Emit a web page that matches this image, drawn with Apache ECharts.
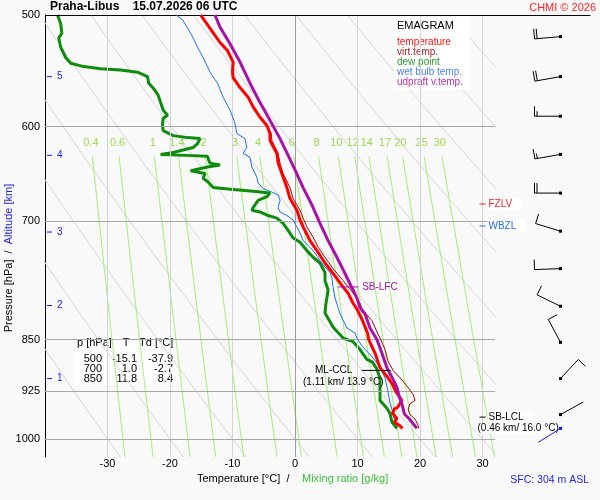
<!DOCTYPE html>
<html>
<head>
<meta charset="utf-8" />
<title>Emagram Praha-Libus</title>
<style>
  html, body { margin: 0; padding: 0; background: #f9f9f9; }
  #emagram { width: 600px; height: 500px; }
</style>
</head>
<body>
<div id="emagram"></div>
<script src="https://cdn.jsdelivr.net/npm/echarts@6/dist/echarts.min.js"></script>
<script>
// --- sounding profiles (pressure hPa / temperature degC) ---
var tempP = [500, 514, 523, 530, 540, 549, 554, 563, 572, 581, 591, 599, 607, 614, 627, 637, 648, 663, 675, 688, 699, 707, 723, 735, 750, 763, 778, 788, 801, 810, 824, 841, 850, 869, 890, 904, 913, 928, 939, 950, 952, 959, 967, 973, 978, 983];
var tempT = [-15.1, -13.2, -12.0, -10.8, -9.9, -10.0, -9.9, -8.8, -7.5, -6.7, -5.6, -4.5, -4.0, -4.0, -2.9, -2.7, -2.1, -1.3, -0.8, 0.3, 0.8, 1.3, 2.4, 3.5, 4.8, 6.1, 7.5, 8.5, 9.3, 10.0, 10.8, 11.6, 11.8, 12.8, 13.6, 14.8, 15.5, 16.3, 17.1, 16.4, 15.9, 15.6, 16.3, 15.9, 16.7, 17.2];

var virtP = [500, 514, 523, 530, 540, 549, 554, 563, 572, 581, 591, 599, 607, 614, 627, 637, 648, 663, 675, 688, 697, 707, 719, 731, 743, 757, 772, 788, 801, 810, 824, 841, 848, 864, 881, 894, 905, 917, 930, 939, 944, 953, 961, 968, 978, 983];
var virtT = [-15.0, -13.1, -11.9, -10.7, -9.8, -9.9, -9.8, -8.7, -7.4, -6.6, -5.5, -4.4, -3.8, -3.7, -2.7, -2.4, -1.9, -0.8, -0.3, 0.8, 1.3, 1.9, 2.9, 3.7, 4.8, 6.1, 7.7, 9.3, 10.4, 10.8, 12.3, 13.2, 13.6, 14.4, 14.9, 15.7, 16.8, 17.9, 18.9, 19.2, 18.4, 18.1, 18.4, 19.2, 19.7, 19.8];

var dewP = [500, 507, 515, 519, 527, 536, 541, 544, 546, 547, 549, 553, 559, 564, 570, 577, 584, 589, 592, 599, 604, 609, 611, 612, 617, 621, 626, 628, 629, 630, 634, 637, 639, 641, 645, 648, 653, 657, 663, 665, 667, 669, 673, 677, 685, 688, 690, 694, 697, 703, 711, 720, 725, 735, 743, 750, 762, 772, 784, 794, 804, 814, 833, 848, 853, 864, 878, 882, 892, 906, 939, 951, 959, 973, 983];
var dewT = [-38.0, -37.5, -37.3, -37.8, -37.5, -36.7, -35.9, -33.8, -31.1, -27.9, -25.2, -23.6, -23.4, -22.6, -21.9, -21.5, -21.1, -20.4, -21.1, -21.2, -21.1, -19.5, -17.2, -15.2, -15.6, -16.3, -19.5, -21.5, -17.5, -14.0, -13.8, -13.6, -12.0, -14.0, -16.7, -14.4, -14.7, -13.9, -13.1, -9.9, -6.7, -4.0, -4.5, -5.9, -6.7, -6.9, -5.6, -4.3, -2.9, -1.9, -1.1, -0.3, 0.8, 1.9, 2.9, 4.0, 4.8, 4.8, 5.3, 5.1, 4.9, 4.8, 6.1, 7.7, 9.3, 10.4, 11.5, 12.4, 13.1, 13.6, 13.6, 14.7, 15.2, 15.5, 16.3];

var wetP = [500, 504, 515, 527, 536, 549, 559, 572, 584, 597, 607, 612, 621, 627, 631, 641, 652, 658, 664, 668, 671, 677, 685, 690, 694, 699, 707, 714, 723, 731, 738, 747, 755, 762, 768, 781, 794, 807, 815, 834, 841, 848, 860, 874, 889, 905, 922, 942, 953, 968, 980];
var wetT = [-19.0, -18.0, -16.7, -15.6, -14.7, -13.6, -12.4, -11.5, -10.4, -9.6, -9.3, -8.0, -7.7, -8.3, -7.2, -6.9, -6.1, -5.9, -5.1, -3.7, -2.7, -2.4, -2.7, -2.4, -1.3, -0.3, 0.3, 0.8, 1.3, 2.4, 3.2, 4.0, 4.8, 5.6, 5.9, 6.1, 6.4, 6.9, 7.2, 8.3, 9.6, 9.9, 10.8, 12.3, 13.6, 14.4, 14.8, 15.2, 15.5, 15.9, 16.4];

var parcelP = [500, 510, 524, 540, 559, 577, 594, 612, 629, 644, 663, 682, 703, 723, 743, 763, 781, 794, 807, 815, 834, 850, 869, 890, 904, 919, 934, 944, 960, 968, 983];
var parcelT = [-12.8, -12.0, -10.4, -8.8, -7.2, -5.6, -4.0, -2.4, -1.1, 0.0, 1.3, 2.7, 4.0, 5.3, 6.7, 8.0, 9.1, 9.9, 10.4, 11.2, 12.0, 13.1, 13.9, 14.7, 15.5, 16.3, 16.7, 17.1, 17.5, 18.3, 19.5];

// --- axes / background isopleths ---
var tMin = -40, tMax = 32, pTop = 500, pBottom = 1030;
var isoT = [-30, -20, -10, 0, 10, 20, 30];
var pLevels = [500, 600, 700, 850, 925, 1000];
var thetaC = [-30, -20, -10, 0, 10, 20, 30, 40, 50, 60, 70, 80, 90, 100];
var mixW = [0.4, 0.6, 1, 1.4, 2, 3, 4, 6, 8, 10, 12, 14, 17, 20, 25, 30];
var mixTopP = 630, mixLabelP = 616;

// altitude marks on the pressure axis
var altKm = [1, 2, 3, 4, 5];
var altP = [906, 804, 713, 629, 553];

// winds (every 0.5 km) + surface
var barbP = [518, 553, 590, 628, 669, 712, 757, 805, 854, 906, 961];
var barbDir = [265, 260, 270, 260, 270, 287, 268, 296, 332, 43, 61];
var barbSpd = [20, 20, 15, 15, 20, 10, 10, 10, 10, 10, 3];
var sfcP = 983, sfcDir = 238, sfcSpd = 3;

// table
var tableP = [500, 700, 850];
var tableT = [-15.1, 1.0, 11.8];
var tableTd = [-37.9, -2.7, 8.4];

// special levels
var levelNames = ['FZLV', 'WBZL', 'SB-LCL', 'SB-LFC', 'ML-CCL'];
var levelP = [681, 706, 965, 780, 894];
var levelT = [30, 30, 30, 8.5, 13.0];
var levelNote = ['', '', '(0.46 km/ 16.0 \u00b0C)', '', '(1.11 km/ 13.9 \u00b0C)'];

var FONT = '"Liberation Sans", Arial, sans-serif';

function pairs(ts, ps) {
  return ps.map(function (p, i) { return [ts[i], p]; });
}
// dry adiabat: T at pressure p for potential temperature theta (degC)
function dryAdiabat(th) {
  var pts = [];
  for (var p = pTop; p <= pBottom; p += 10) {
    pts.push([(th + 273.15) * Math.pow(p / 1000, 0.2857) - 273.15, p]);
  }
  return pts;
}
// saturation mixing ratio line (Magnus)
function tdFromMix(w, p) {
  var e = w * p / (622 + w);
  var a = Math.log(e / 6.112);
  return 243.5 * a / (17.67 - a);
}
function mixLine(w) {
  var pts = [];
  for (var p = mixTopP; p <= pBottom; p += 10) pts.push([tdFromMix(w, p), p]);
  return pts;
}

var chart = echarts.init(document.getElementById('emagram'));

var series = [];

// dry adiabats; the first one also carries isotherms and isobars
thetaC.forEach(function (th, i) {
  var s = {
    type: 'line', data: dryAdiabat(th), showSymbol: false, symbol: 'none',
    silent: true, z: 1, lineStyle: { color: '#d4d4d4', width: 1 }
  };
  if (i === 0) {
    s.markLine = {
      silent: true, symbol: 'none', animation: false,
      label: { show: false },
      data: isoT.map(function (t) {
        return { xAxis: t, lineStyle: { color: t === 0 ? '#9c9c9c' : '#d4d4d4', width: 1, type: 'solid' } };
      }).concat(pLevels.map(function (p) {
        return {
          yAxis: p,
          lineStyle: { color: p === pTop ? '#000' : '#a8a8a8', width: 1, type: 'solid' },
          label: { show: true, position: 'start', distance: 5, formatter: String(p), color: '#000', fontSize: 11, fontFamily: FONT }
        };
      }))
    };
  }
  series.push(s);
});

// mixing ratio lines
mixW.forEach(function (w) {
  series.push({
    type: 'line', data: mixLine(w), showSymbol: false, symbol: 'none',
    silent: true, z: 1, lineStyle: { color: '#a2ee74', width: 1 }
  });
});
series.push({
  type: 'custom', coordinateSystem: 'cartesian2d', silent: true, z: 2,
  data: mixW.map(function (w) { return [tdFromMix(w, mixLabelP), mixLabelP]; }),
  renderItem: function (params, api) {
    var pt = api.coord([api.value(0), api.value(1)]);
    return {
      type: 'text', x: pt[0], y: pt[1],
      style: { text: String(mixW[params.dataIndex]), fill: '#9bd84e', font: '11px ' + FONT, align: 'center', verticalAlign: 'middle' }
    };
  }
});

// altitude ticks
series.push({
  type: 'custom', coordinateSystem: 'cartesian2d', silent: true, z: 3,
  data: altP.map(function (p, i) { return [tMin, p, altKm[i]]; }),
  renderItem: function (params, api) {
    var pt = api.coord([api.value(0), api.value(1)]);
    return {
      type: 'group', children: [
        { type: 'line', shape: { x1: pt[0] + 2, y1: pt[1], x2: pt[0] + 7, y2: pt[1] }, style: { stroke: '#1a1aee', lineWidth: 1 } },
        { type: 'text', x: pt[0] + 12, y: pt[1], style: { text: String(api.value(2)), fill: '#1a1aee', font: '10px ' + FONT, align: 'left', verticalAlign: 'middle' } }
      ]
    };
  }
});

// profiles
function profile(name, ts, ps, color, width, z) {
  return {
    type: 'line', name: name, data: pairs(ts, ps), showSymbol: false, symbol: 'none',
    silent: true, z: z, color: color, lineStyle: { color: color, width: width }
  };
}
series.push(profile('dew point', dewT, dewP, '#0e8c0e', 3, 4));
series.push(profile('wet bulb temp.', wetT, wetP, '#1e6ef0', 1, 5));
series.push(profile('virt.temp.', virtT, virtP, '#9a0a0a', 1, 5));
series.push(profile('temperature', tempT, tempP, '#ff0000', 3, 6));
series.push(profile('udpraft v.temp.', parcelT, parcelP, '#a812a8', 3, 7));

// special levels
var levelLook = {
  'FZLV': { color: '#ff1a1a', half: 3, dx: 5, align: 'left', bg: '#fff' },
  'WBZL': { color: '#2a6cf0', half: 3, dx: 5, align: 'left', bg: '#fff' },
  'SB-LCL': { color: '#000', half: 3, dx: 5, align: 'left', bg: '#fff', ndx: -6, nalign: 'left' },
  'SB-LFC': { color: '#a812a8', half: 10, dx: 14, align: 'left', bg: null },
  'ML-CCL': { color: '#000', half: 14.5, dx: -24, align: 'right', bg: null, ndx: -33, nalign: 'center' }
};
series.push({
  type: 'custom', coordinateSystem: 'cartesian2d', silent: true, z: 8,
  data: levelP.map(function (p, i) { return [levelT[i], p]; }),
  renderItem: function (params, api) {
    var i = params.dataIndex;
    var look = levelLook[levelNames[i]];
    var pt = api.coord([api.value(0), api.value(1)]);
    var kids = [
      { type: 'line', shape: { x1: pt[0] - look.half, y1: pt[1], x2: pt[0] + look.half, y2: pt[1] }, style: { stroke: look.color, lineWidth: 1 } },
      { type: 'text', x: pt[0] + look.dx, y: pt[1], style: {
        text: levelNames[i], fill: look.color, font: '10px ' + FONT, align: look.align, verticalAlign: 'middle',
        backgroundColor: look.bg, padding: look.bg ? [1, 10, 1, 1] : 0 } }
    ];
    if (levelNote[i]) {
      kids.push({ type: 'text', x: pt[0] + look.ndx, y: pt[1] + 11.5, style: {
        text: levelNote[i], fill: '#000', font: '10px ' + FONT, align: look.nalign, verticalAlign: 'middle',
        backgroundColor: look.bg, padding: look.bg ? [0, 2, 0, 1] : 0 } });
    }
    return { type: 'group', children: kids };
  }
});

// wind barbs (right column)
function drawBarb(params, api) {
  var cs = params.coordSys;
  var x = cs.x + cs.width - 29.5;
  var y = api.coord([0, api.value(1)])[1];
  var dir = api.value(2) * Math.PI / 180, spd = api.value(3);
  var color = api.value(4) ? '#1a1aee' : '#000';
  var ux = Math.sin(dir), uy = -Math.cos(dir);
  var nx = -uy, ny = ux;
  var ex = x + ux * 26, ey = y + uy * 26;
  var kids = [
    { type: 'line', shape: { x1: x, y1: y, x2: ex, y2: ey }, style: { stroke: color, lineWidth: 1 } },
    { type: 'rect', shape: { x: x - 1.5, y: y - 1.5, width: 3, height: 3 }, style: { fill: color } }
  ];
  var full = Math.floor(spd / 10), half = spd % 10 >= 5 ? 1 : 0;
  for (var k = 0; k < full + half; k++) {
    var len = k < full ? 10 : 5;
    var bx = ex - ux * k * 2.5, by = ey - uy * k * 2.5;
    kids.push({ type: 'line', shape: { x1: bx, y1: by, x2: bx + nx * len, y2: by + ny * len }, style: { stroke: color, lineWidth: 1 } });
  }
  return { type: 'group', children: kids };
}
series.push({
  type: 'custom', xAxisIndex: 1, yAxisIndex: 1, silent: true, z: 9,
  data: barbP.map(function (p, i) { return [0, p, barbDir[i], barbSpd[i], 0]; })
    .concat([[0, sfcP, sfcDir, sfcSpd, 1]]),
  renderItem: drawBarb
});

// table of standard levels
var tableKids = [
  { type: 'rect', shape: { x: 75, y: 335, width: 105, height: 50 }, style: { fill: '#fff' } },
  { type: 'text', x: 77, y: 343, style: { text: 'p [hPa]', fill: '#000', font: '11px ' + FONT, align: 'left', verticalAlign: 'middle' } },
  { type: 'text', x: 126, y: 343, style: { text: 'T', fill: '#000', font: '11px ' + FONT, align: 'center', verticalAlign: 'middle' } },
  { type: 'text', x: 139, y: 343, style: { text: 'Td [\u00b0C]', fill: '#000', font: '11px ' + FONT, align: 'left', verticalAlign: 'middle' } }
];
tableP.forEach(function (p, i) {
  var y = 359 + i * 10;
  tableKids.push({ type: 'text', x: 102, y: y, style: { text: String(p), fill: '#000', font: '11px ' + FONT, align: 'right', verticalAlign: 'middle' } });
  tableKids.push({ type: 'text', x: 137, y: y, style: { text: tableT[i].toFixed(1), fill: '#000', font: '11px ' + FONT, align: 'right', verticalAlign: 'middle' } });
  tableKids.push({ type: 'text', x: 173, y: y, style: { text: tableTd[i].toFixed(1), fill: '#000', font: '11px ' + FONT, align: 'right', verticalAlign: 'middle' } });
});

chart.setOption({
  animation: false,
  backgroundColor: '#f9f9f9',
  textStyle: { fontFamily: FONT },
  title: [
    { text: 'Praha-Libus    15.07.2026 06 UTC', left: 50, top: 1, padding: 0,
      textStyle: { fontSize: 12, fontWeight: 'bold', color: '#000' } },
    { text: 'CHMI \u00a9 2026', right: 4, top: 2, padding: 0,
      textStyle: { fontSize: 11, fontWeight: 'normal', color: '#ff2020' } },
    { text: 'SFC: 304 m ASL', right: 11, top: 475, padding: 0,
      textStyle: { fontSize: 10.5, fontWeight: 'normal', color: '#2222ee' } }
  ],
  legend: {
    left: 392, top: 37, orient: 'vertical', padding: 0, itemGap: 0,
    itemWidth: 0, itemHeight: 10, icon: 'none', selectedMode: false,
    lineStyle: { opacity: 0 }, itemStyle: { opacity: 0 },
    textStyle: { fontSize: 10, lineHeight: 10, padding: 0 },
    data: [
      { name: 'temperature', textStyle: { color: '#ff1010' } },
      { name: 'virt.temp.', textStyle: { color: '#a52020' } },
      { name: 'dew point', textStyle: { color: '#2a9a2a' } },
      { name: 'wet bulb temp.', textStyle: { color: '#4a80f0' } },
      { name: 'udpraft v.temp.', textStyle: { color: '#b030b0' } }
    ]
  },
  grid: [
    { left: 45, top: 15, width: 450, height: 442 },
    { left: 495, top: 15, width: 95, height: 442 }
  ],
  xAxis: [
    { type: 'value', gridIndex: 0, min: tMin, max: tMax, interval: 10,
      axisLine: { show: false }, axisTick: { show: false }, splitLine: { show: false },
      axisLabel: { color: '#000', fontSize: 11, margin: 1,
        formatter: function (v) { return isoT.indexOf(v) >= 0 ? String(v) : ''; } } },
    { type: 'value', gridIndex: 1, min: 0, max: 1, position: 'top',
      axisLine: { show: true, onZero: false, lineStyle: { color: '#000', width: 1 } },
      axisTick: { show: false }, axisLabel: { show: false }, splitLine: { show: false } }
  ],
  yAxis: [
    { type: 'log', gridIndex: 0, logBase: 10, inverse: true, min: pTop, max: pBottom,
      axisLine: { show: true, onZero: false, lineStyle: { color: '#000', width: 1 } },
      axisTick: { show: false }, axisLabel: { show: false }, splitLine: { show: false } },
    { type: 'log', gridIndex: 1, logBase: 10, inverse: true, min: pTop, max: pBottom, show: false }
  ],
  graphic: [
    { type: 'rect', shape: { x: 394, y: 17, width: 76, height: 73 }, style: { fill: '#fff' }, z: 3 },
    { type: 'text', x: 397, y: 26, z: 4, style: { text: 'EMAGRAM', fill: '#000', font: '11px ' + FONT, align: 'left', verticalAlign: 'middle' } },
    { type: 'group', z: 4, children: tableKids },
    { type: 'text', x: 9, y: 258, rotation: Math.PI / 2, z: 4,
      style: { text: '{a|Pressure [hPa]}  /  {b|Altitude [km]}', fill: '#000', font: '11px ' + FONT,
        align: 'center', verticalAlign: 'middle',
        rich: { a: { fill: '#000', fontSize: 11, fontFamily: FONT }, b: { fill: '#2222ee', fontSize: 11, fontFamily: FONT } } } },
    { type: 'text', x: 197, y: 479, z: 4, style: { text: 'Temperature [\u00b0C]  /', fill: '#000', font: '11px ' + FONT, align: 'left', verticalAlign: 'middle' } },
    { type: 'text', x: 302, y: 479, z: 4, style: { text: 'Mixing ratio [g/kg]', fill: '#3cbc3c', font: '11px ' + FONT, align: 'left', verticalAlign: 'middle' } }
  ],
  series: series
});
</script>
</body>
</html>
